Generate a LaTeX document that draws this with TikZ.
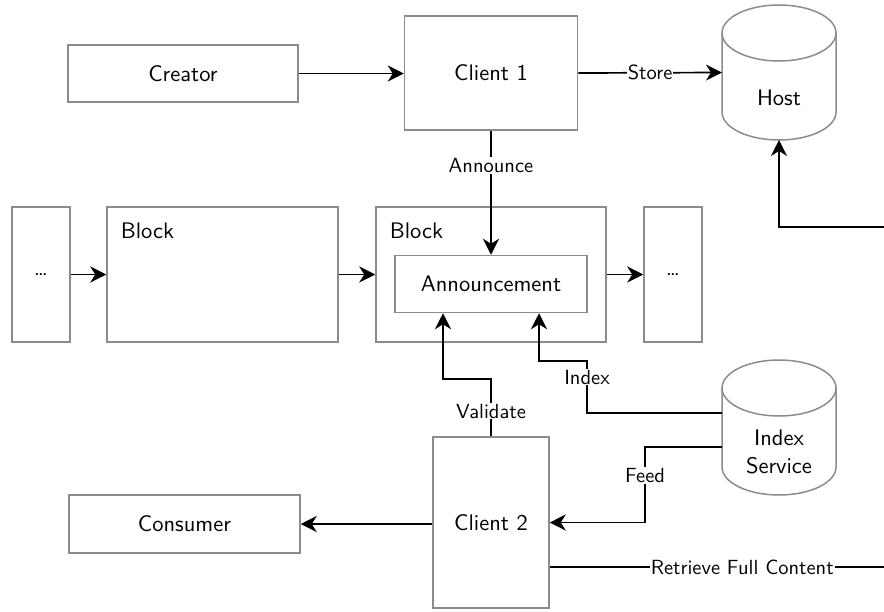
\documentclass[tikz,border=0pt]{standalone}
\usepackage{fontspec}
\setsansfont{lmsans10-regular.otf}
\usetikzlibrary{arrows.meta}
\definecolor{boxgray}{RGB}{140,140,140}

% outline of a drum (cylinder) around a named, invisible node
\newcommand\drumoutline[1]{%
  \filldraw[drumline] ([yshift=-28pt]#1.north west) -- ([yshift=28pt]#1.south west)
    arc[start angle=180,end angle=360,x radius=57pt,y radius=28pt]
    -- ([yshift=-28pt]#1.north east);
  \filldraw[drumline] ([yshift=-28pt]#1.north) ellipse[x radius=57pt,y radius=28pt];
}

\begin{document}
\begin{tikzpicture}[x=1pt,y=1pt,
  font=\sffamily\fontsize{22.5}{28}\selectfont,
  box/.style={draw=boxgray, line width=1.5pt, fill=white, inner sep=0pt},
  drumline/.style={draw=boxgray, line width=1.5pt, fill=white},
  hold/.style={draw=none, inner sep=0pt, outer sep=0pt},
  conn/.style={line width=1.7pt, -{Stealth[length=16pt,width=16pt,inset=5pt]}},
  plain/.style={line width=1.7pt},
  lbl/.style={fill=white, inner sep=1pt, font=\sffamily\fontsize{20.5}{25}\selectfont}]
\useasboundingbox (0,0) rectangle (884,-611);

% top row
\node[box, minimum width=230pt, minimum height=57pt] (creator) at (183,-73.5) {Creator};
\node[box, minimum width=173pt, minimum height=114pt] (client1) at (491,-73) {Client 1};
\node[hold, minimum width=114pt, minimum height=135pt] (host) at (779,-72.5) {};
\drumoutline{host}
\node (hostlbl) at (779,-98) {Host};

% chain of blocks
\node[box, minimum width=58pt, minimum height=135pt] (prev) at (41,-274.5) {\dots};
\node[box, minimum width=231pt, minimum height=135pt] (blk1) at (222.5,-274.5) {};
\node[box, minimum width=230pt, minimum height=135pt] (blk2) at (491,-274.5) {};
\node[box, minimum width=192pt, minimum height=57pt] (ann) at (491,-284) {Announcement};
\node[box, minimum width=58pt, minimum height=135pt] (next) at (673,-274.5) {\dots};
\node[anchor=west] (blk1lbl) at ([xshift=11pt,yshift=-25pt]blk1.north west) {Block};
\node[anchor=west] (blk2lbl) at ([xshift=11pt,yshift=-25pt]blk2.north west) {Block};

% bottom row
\node[box, minimum width=231pt, minimum height=58pt] (consumer) at (184.5,-524) {Consumer};
\node[box, minimum width=116pt, minimum height=171pt] (client2) at (491,-522.5) {Client 2};
\node[hold, minimum width=114pt, minimum height=135pt] (isvc) at (779,-427.5) {};
\drumoutline{isvc}
\node[align=center] (isvclbl) at (779,-452) {Index\\Service};

% free ends at the right margin
\coordinate (edgeH) at (884,-227);
\coordinate (edgeR) at (884,-567);

% connectors
\draw[conn] (creator.east) -- (creator.east -| client1.west);
\draw[conn] (client1.east) -- node[lbl]{Store} (host.west);
\draw[conn] (client1.south) -- node[lbl,pos=0.28]{Announce} (ann.north);
\draw[conn] (edgeH) -| (host.south);
\draw[conn] (prev.east) -- (blk1.west);
\draw[conn] (blk1.east) -- (blk2.west);
\draw[conn] (blk2.east) -- (next.west);
\draw[conn] (client2.north) -- node[lbl,pos=0.44]{Validate} ++(0,57)
  -| ([xshift=-48pt]ann.south);
\draw[conn] ([yshift=14.5pt]isvc.west) -- ++(-135,0)
  -- node[lbl,pos=0.69]{Index} ++(0,52) -| ([xshift=48pt]ann.south);
\draw[conn] ([yshift=-19.5pt]isvc.west) -- ++(-77,0)
  |- node[lbl,pos=0.19]{Feed} (client2.east);
\draw[conn] (client2.west |- consumer.east) -- (consumer.east);
\draw[plain] ([yshift=-44.5pt]client2.east) -- node[lbl,pos=0.576]{Retrieve Full Content} (edgeR);
\end{tikzpicture}
\end{document}
